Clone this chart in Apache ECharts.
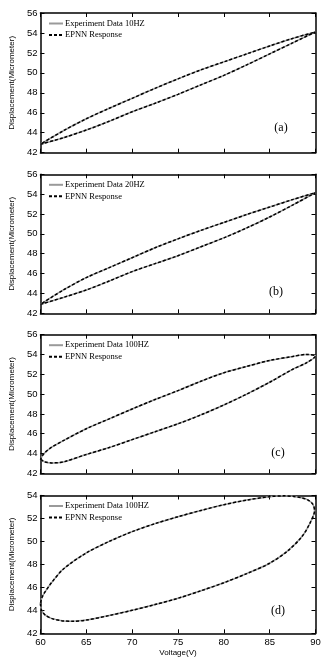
<!DOCTYPE html>
<html>
<head>
<meta charset="utf-8">
<script src="https://cdn.jsdelivr.net/npm/echarts@6/dist/echarts.min.js"></script>
<style>
html,body{margin:0;padding:0;background:#fff;}
#chart{width:332px;height:664px;}
</style>
</head>
<body>
<div id="chart"></div>
<script>
// ---- data ----
const panelTags = ['(a)', '(b)', '(c)', '(d)'];
const expNames = ['Experiment Data 10HZ', 'Experiment Data 20HZ', 'Experiment Data 100HZ', 'Experiment Data 100HZ'];
const epnnName = 'EPNN Response';
const xTicks = [60, 65, 70, 75, 80, 85, 90];
const yMaxes = [56, 56, 56, 54];

const aVolt = [60, 62.5, 65, 67.5, 70, 72.5, 75, 77.5, 80, 82.5, 85, 87.5, 90, 87.5, 85, 82.5, 80, 77.5, 75, 72.5, 70, 67.5, 65, 62.5, 60];
const aDisp = [42.85, 43.5, 44.27, 45.15, 46.1, 46.95, 47.85, 48.8, 49.75, 50.8, 51.9, 53.0, 54.1, 53.45, 52.7, 51.9, 51.1, 50.3, 49.4, 48.45, 47.45, 46.45, 45.4, 44.2, 42.85];

const bVolt = [60, 62.5, 65, 67.5, 70, 72.5, 75, 77.5, 80, 82.5, 85, 87.5, 90, 87.5, 85, 82.5, 80, 77.5, 75, 72.5, 70, 67.5, 65, 62.5, 60];
const bDisp = [42.9, 43.6, 44.35, 45.25, 46.2, 47.0, 47.8, 48.7, 49.6, 50.6, 51.7, 52.9, 54.15, 53.45, 52.7, 51.95, 51.15, 50.35, 49.5, 48.6, 47.6, 46.6, 45.6, 44.35, 42.9];

const cVolt = [60, 60.5, 61.2, 62.5, 65, 67.5, 70, 72.5, 75, 77.5, 80, 82.5, 85, 87.5, 89, 90, 89, 87.5, 85, 82.5, 80, 77.5, 75, 72.5, 70, 67.5, 65, 62.5, 61, 60.3, 60];
const cDisp = [43.4, 43.15, 43.05, 43.15, 43.9, 44.6, 45.4, 46.2, 47.0, 47.9, 48.9, 50.0, 51.2, 52.5, 53.15, 53.85, 54.0, 53.8, 53.4, 52.8, 52.15, 51.3, 50.35, 49.45, 48.5, 47.5, 46.5, 45.3, 44.5, 43.9, 43.4];

const dVolt = [60, 60.1, 60.5, 61.2, 62.3, 63.5, 65, 67.5, 70, 72.5, 75, 77.5, 80, 82.5, 85, 87, 88.5, 89.4, 89.9, 89.7, 89.2, 88.5, 87.5, 86.5, 85, 82.5, 80, 77.5, 75, 72.5, 70, 67.5, 65, 62.5, 61.2, 60.5, 60.15, 60];
const dDisp = [44.6, 44.05, 43.6, 43.3, 43.1, 43.05, 43.15, 43.55, 44.0, 44.5, 45.05, 45.7, 46.4, 47.2, 48.1, 49.2, 50.4, 51.6, 52.7, 53.25, 53.6, 53.8, 53.93, 53.97, 53.9, 53.6, 53.2, 52.7, 52.15, 51.55, 50.85, 50.0, 49.0, 47.6, 46.4, 45.6, 45.1, 44.6];

const volts = [aVolt, bVolt, cVolt, dVolt];
const disps = [aDisp, bDisp, cDisp, dDisp];

// ---- layout ----
const grids = [
  {left: 40, top: 13, width: 275.5, height: 139.7},
  {left: 40, top: 174.3, width: 275.5, height: 139},
  {left: 40, top: 334.7, width: 275.5, height: 138.6},
  {left: 40, top: 495.5, width: 275.5, height: 137.8}
];
const tagPos = [[281, 127.7], [276, 291.7], [278, 452.7], [278, 610.7]];

const frameLine = {show: true, onZero: false, lineStyle: {color: '#000', width: 1.5}};
const tick = {show: true, inside: true, length: 4, lineStyle: {color: '#000', width: 1}};
const sans = 'Liberation Sans, Arial, sans-serif';
const serif = 'Liberation Serif, Times New Roman, serif';
const expColor = '#9a9a9a';

const xAxes = [], yAxes = [], series = [], legends = [], graphics = [];
for (let i = 0; i < 4; i++) {
  const data = volts[i].map((v, k) => [v, disps[i][k]]);
  xAxes.push({
    gridIndex: i, type: 'value', min: xTicks[0], max: xTicks[xTicks.length - 1], interval: 5,
    axisLine: frameLine, axisTick: tick, splitLine: {show: false},
    axisLabel: {show: i === 3, color: '#000', fontSize: 9.5, fontFamily: sans, margin: 4},
    name: i === 3 ? 'Voltage(V)' : '', nameLocation: 'middle', nameGap: 15,
    nameTextStyle: {color: '#000', fontSize: 8, fontFamily: sans}
  });
  yAxes.push({
    gridIndex: i, type: 'value', min: 42, max: yMaxes[i], interval: 2,
    axisLine: frameLine, axisTick: tick, splitLine: {show: false},
    axisLabel: {color: '#000', fontSize: 9.5, fontFamily: sans, margin: 3},
    name: 'Displacement(Micrometer)', nameLocation: 'middle', nameGap: 18,
    nameTextStyle: {color: '#000', fontSize: 8, fontFamily: sans}
  });
  series.push({
    name: expNames[i], type: 'line', xAxisIndex: i, yAxisIndex: i, data: data,
    smooth: 0.3, symbol: 'none', showSymbol: false, color: expColor,
    itemStyle: {color: expColor}, lineStyle: {color: expColor, width: 1.5}, silent: true,
    animation: false
  });
  series.push({
    name: epnnName, type: 'line', xAxisIndex: i, yAxisIndex: i, data: data,
    smooth: 0.3, symbol: 'none', showSymbol: false, color: '#000',
    itemStyle: {color: '#000'}, lineStyle: {color: '#000', width: 1.5, type: [3, 2]}, silent: true,
    animation: false
  });
  legends.push({
    data: [expNames[i], epnnName], orient: 'vertical', left: 48, top: grids[i].top + 6,
    itemWidth: 14, itemHeight: 8, itemGap: 2.5, padding: 0,
    itemStyle: {color: 'rgba(0,0,0,0)', borderColor: 'rgba(0,0,0,0)', borderWidth: 0, opacity: 0},
    textStyle: {color: '#000', fontSize: 8.5, fontFamily: serif, padding: [0, 0, 0, -3]},
    selectedMode: false
  });
  graphics.push({
    type: 'text', x: tagPos[i][0], y: tagPos[i][1],
    style: {text: panelTags[i], fill: '#000', font: '12px ' + serif, textAlign: 'center', textVerticalAlign: 'middle'}
  });
}
for (let i = 0; i < 4; i++) {
  xAxes.push({
    gridIndex: i, type: 'value', position: 'top', min: 60, max: 90, interval: 5,
    axisLine: frameLine, axisTick: tick, axisLabel: {show: false}, splitLine: {show: false}
  });
  yAxes.push({
    gridIndex: i, type: 'value', position: 'right', min: 42, max: yMaxes[i], interval: 2,
    axisLine: frameLine, axisTick: tick, axisLabel: {show: false}, splitLine: {show: false}
  });
}

const chart = echarts.init(document.getElementById('chart'), null, {renderer: 'canvas'});
chart.setOption({
  backgroundColor: '#fff',
  animation: false,
  grid: grids,
  xAxis: xAxes,
  yAxis: yAxes,
  legend: legends,
  series: series,
  graphic: graphics
});
</script>
</body>
</html>
